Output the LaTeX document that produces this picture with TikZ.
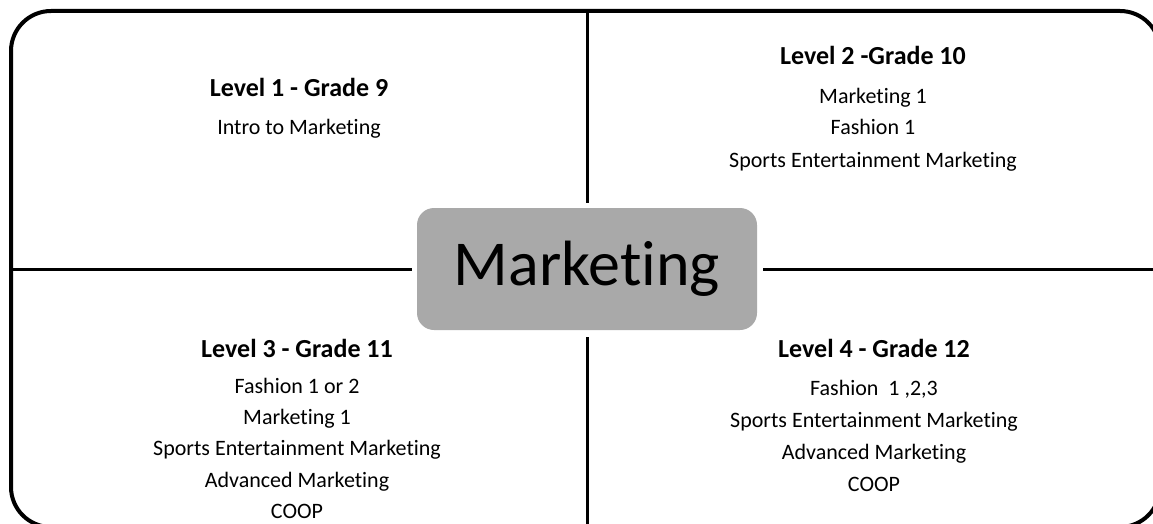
\documentclass[tikz,border=0pt]{standalone}
\usepackage{fontspec}
\setmainfont{Carlito}[Ligatures={NoCommon}]
\definecolor{boxgray}{RGB}{169,169,169}
\tikzset{
  frame/.style={line width=4pt, rounded corners=40pt},
  divider/.style={line width=3pt},
  hub/.style={fill=boxgray, rounded corners=17pt, minimum width=340pt, minimum height=122pt, inner sep=0pt, font=\fontsize{64}{70}\selectfont},
  heading/.style={anchor=base, inner sep=0pt, font=\bfseries\fontsize{26}{30}\selectfont},
  item/.style={anchor=base, inner sep=0pt, font=\fontsize{22}{26}\selectfont},
}
\begin{document}
\begin{tikzpicture}[x=1pt,y=-1pt]
\useasboundingbox (0,0) rectangle (1153,524);
\clip (0,0) rectangle (1153,524);
\draw[frame] (11,11) rectangle (1160,527);
\node[hub] (hub) at (587,269) {Marketing};
\coordinate (nT) at (587,11);
\coordinate (nB) at (587,527);
\coordinate (wL) at (11,269);
\coordinate (eR) at (1160,269);
\draw[divider, shorten >=5pt] (nT) -- (hub.north);
\draw[divider, shorten >=7pt] (nB) -- (hub.south);
\draw[divider, shorten >=5pt] (wL) -- (hub.west);
\draw[divider, shorten >=6pt] (eR) -- (hub.east);
% Level 1
\node[heading] (h1) at (299,97) {Level 1 - Grade 9};
\node[item] (a1) at (299,135) {Intro to Marketing};
% Level 2
\node[heading] (h2) at (873,65) {Level 2 -Grade 10};
\node[item] (b1) at (873,103) {Marketing 1};
\node[item] (b2) at (873,135) {Fashion 1};
\node[item] (b3) at (873,167) {Sports Entertainment Marketing};
% Level 3
\node[heading] (h3) at (297,357) {Level 3 - Grade 11};
\node[item] (c1) at (297,393) {Fashion 1 or 2};
\node[item] (c2) at (297,424) {Marketing 1};
\node[item] (c3) at (297,455) {Sports Entertainment Marketing};
\node[item] (c4) at (297,487) {Advanced Marketing};
\node[item] (c5) at (297,518) {COOP};
% Level 4
\node[heading] (h4) at (874,357) {Level 4 - Grade 12};
\node[item] (d1) at (874,395) {Fashion\ \ 1 ,2,3};
\node[item] (d2) at (874,427) {Sports Entertainment Marketing};
\node[item] (d3) at (874,459) {Advanced Marketing};
\node[item] (d4) at (874,491) {COOP};
\end{tikzpicture}
\end{document}
